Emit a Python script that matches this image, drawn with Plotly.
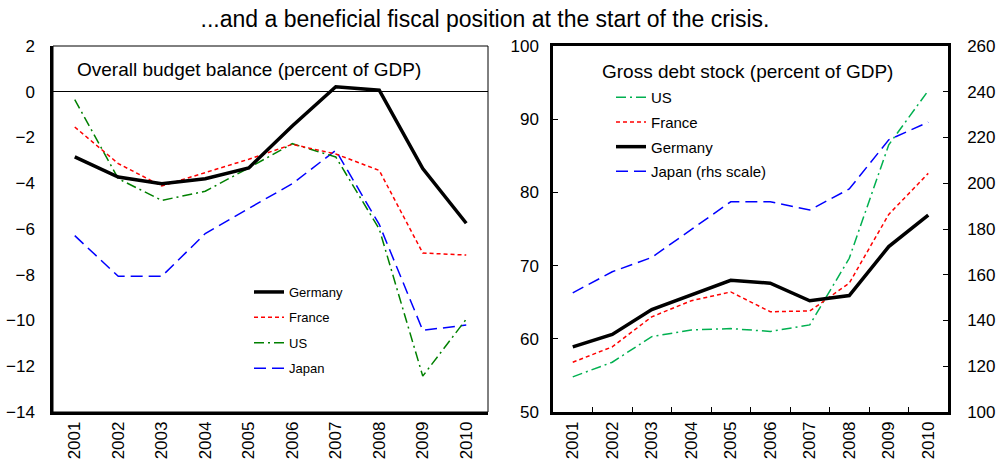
import plotly.graph_objects as go

years = ['2001', '2002', '2003', '2004', '2005', '2006', '2007', '2008', '2009', '2010']

# Overall budget balance (percent of GDP)
germany_bal = [-2.85, -3.73, -4.02, -3.8, -3.33, -1.5, 0.22, 0.07, -3.36, -5.75]
france_bal = [-1.54, -3.14, -4.12, -3.55, -2.95, -2.3, -2.72, -3.44, -7.05, -7.14]
us_bal = [-0.34, -3.8, -4.75, -4.35, -3.33, -2.27, -2.85, -6.0, -12.43, -9.94]
japan_bal = [-6.29, -8.07, -8.07, -6.2, -5.1, -4.02, -2.56, -5.8, -10.43, -10.2]

# Gross debt stock (percent of GDP)
germany_debt = [58.9, 60.6, 64.0, 66.0, 68.0, 67.6, 65.2, 65.9, 72.6, 76.9]
france_debt = [56.8, 58.9, 63.0, 65.2, 66.4, 63.7, 63.8, 67.6, 77.0, 82.6]
us_debt = [54.8, 56.8, 60.3, 61.2, 61.4, 61.0, 61.9, 71.0, 86.5, 93.9]
japan_debt = [152.1, 161.3, 167.6, 179.8, 191.9, 191.9, 188.3, 197.5, 219.0, 226.7]

FONT = "Liberation Sans"
W, H = 998, 465
BLUE = "#0000FF"
RED = "#FF0000"
GREEN_L = "#008000"
GREEN_R = "#00B050"


def px(x):
    return x / W


def py(y):
    return 1 - y / H


ydom = [py(412), py(46)]
x1dom = [px(53), px(488)]
x2dom = [px(553), px(948)]

bal_range = [-14, 2]
zero_pos = ydom[0] + (0 - bal_range[0]) / (bal_range[1] - bal_range[0]) * (ydom[1] - ydom[0])

fig = go.Figure()

# Left panel
fig.add_trace(go.Scatter(x=years, y=japan_bal, name="Japan", mode="lines",
                         line=dict(color=BLUE, width=1.5, dash="12px,6px"),
                         xaxis="x", yaxis="y", legend="legend", legendrank=4, legendgroup="a4"))
fig.add_trace(go.Scatter(x=years, y=us_bal, name="US", mode="lines",
                         line=dict(color=GREEN_L, width=1.5, dash="10px,4px,2px,4px"),
                         xaxis="x", yaxis="y", legend="legend", legendrank=3, legendgroup="a3"))
fig.add_trace(go.Scatter(x=years, y=france_bal, name="France", mode="lines",
                         line=dict(color=RED, width=1.5, dash="4px,3px"),
                         xaxis="x", yaxis="y", legend="legend", legendrank=2, legendgroup="a2"))
fig.add_trace(go.Scatter(x=years, y=germany_bal, name="Germany", mode="lines",
                         line=dict(color="black", width=3.5),
                         xaxis="x", yaxis="y", legend="legend", legendrank=1, legendgroup="a1"))

# Right panel
fig.add_trace(go.Scatter(x=years, y=japan_debt, name="Japan (rhs scale)", mode="lines",
                         line=dict(color=BLUE, width=1.5, dash="12px,6px"),
                         xaxis="x2", yaxis="y3", legend="legend2", legendrank=4, legendgroup="b4"))
fig.add_trace(go.Scatter(x=years, y=us_debt, name="US", mode="lines",
                         line=dict(color=GREEN_R, width=1.5, dash="10px,4px,2px,4px"),
                         xaxis="x2", yaxis="y2", legend="legend2", legendrank=1, legendgroup="b1"))
fig.add_trace(go.Scatter(x=years, y=france_debt, name="France", mode="lines",
                         line=dict(color=RED, width=1.5, dash="4px,3px"),
                         xaxis="x2", yaxis="y2", legend="legend2", legendrank=2, legendgroup="b2"))
fig.add_trace(go.Scatter(x=years, y=germany_debt, name="Germany", mode="lines",
                         line=dict(color="black", width=3.5),
                         xaxis="x2", yaxis="y2", legend="legend2", legendrank=3, legendgroup="b3"))

tickfont = dict(family=FONT, size=17, color="black")

fig.update_layout(
    width=W, height=H,
    margin=dict(l=0, r=0, t=0, b=0),
    paper_bgcolor="white", plot_bgcolor="white",
    font=dict(family=FONT, color="black"),
    title=dict(text="...and a beneficial fiscal position at the start of the crisis.",
               x=px(485), xanchor="center", y=py(19), yanchor="middle",
               font=dict(family=FONT, size=23, color="black")),
    xaxis=dict(domain=x1dom, anchor="y", type="category", range=[-0.5, 9.5],
               showline=True, linecolor="black", linewidth=2.5, ticks="",
               tickangle=-90, tickfont=tickfont, showgrid=False, zeroline=False,
               automargin=False),
    yaxis=dict(domain=ydom, anchor="x", range=bal_range, dtick=2,
               showline=True, linecolor="black", linewidth=2.5, ticks="",
               tickfont=tickfont, showgrid=False, ticklabelstandoff=12,
               zeroline=True, zerolinecolor="black", zerolinewidth=1,
               automargin=False),
    xaxis3=dict(domain=x1dom, anchor="free", position=zero_pos, overlaying="x",
                range=[-0.5, 9.5], tickvals=[0.5, 1.5, 2.5, 3.5, 4.5, 5.5, 6.5, 7.5, 8.5],
                ticks="inside", ticklen=4, tickwidth=1, tickcolor="black",
                showticklabels=False, showline=False, showgrid=False, zeroline=False,
                automargin=False),
    xaxis2=dict(domain=x2dom, anchor="y2", type="category", range=[-0.5, 9.5],
                showline=True, linecolor="black", linewidth=2.5, mirror=True,
                ticks="inside", tickson="boundaries", ticklen=5, tickcolor="black",
                tickangle=-90, tickfont=tickfont, showgrid=False, zeroline=False,
                automargin=False),
    yaxis2=dict(domain=ydom, anchor="x2", range=[50, 100], dtick=10,
                showline=True, linecolor="black", linewidth=2.5,
                ticks="inside", ticklen=5, tickcolor="black", ticklabelstandoff=8,
                tickfont=tickfont, showgrid=False, zeroline=False, automargin=False),
    yaxis3=dict(domain=ydom, anchor="x2", overlaying="y2", side="right",
                range=[100, 260], dtick=20,
                showline=True, linecolor="black", linewidth=2.5,
                ticks="inside", ticklen=5, tickcolor="black", ticklabelstandoff=13,
                tickfont=tickfont, showgrid=False, zeroline=False, automargin=False),
    legend=dict(x=px(249), y=py(277), xanchor="left", yanchor="top",
                bgcolor="rgba(0,0,0,0)", font=dict(family=FONT, size=13, color="black"),
                tracegroupgap=5.5),
    legend2=dict(x=px(611), y=py(81), xanchor="left", yanchor="top",
                 bgcolor="rgba(0,0,0,0)", font=dict(family=FONT, size=15, color="black"),
                 tracegroupgap=2.2),
    showlegend=True,
    shapes=[dict(type="rect", xref="x domain", yref="y domain", x0=0, x1=1, y0=0, y1=1,
                 line=dict(color="black", width=1), layer="below")],
    annotations=[
        dict(text="Overall budget balance (percent of GDP)", xref="paper", yref="paper",
             x=px(249), y=py(69), xanchor="center", yanchor="middle", showarrow=False,
             font=dict(family=FONT, size=19, color="black")),
        dict(text="Gross debt stock (percent of GDP)", xref="paper", yref="paper",
             x=px(747), y=py(71), xanchor="center", yanchor="middle", showarrow=False,
             font=dict(family=FONT, size=19, color="black")),
    ],
)

fig.write_html("out.html", config={"displayModeBar": False},
               post_script="document.body.style.margin='0';document.body.style.overflow='hidden';")
